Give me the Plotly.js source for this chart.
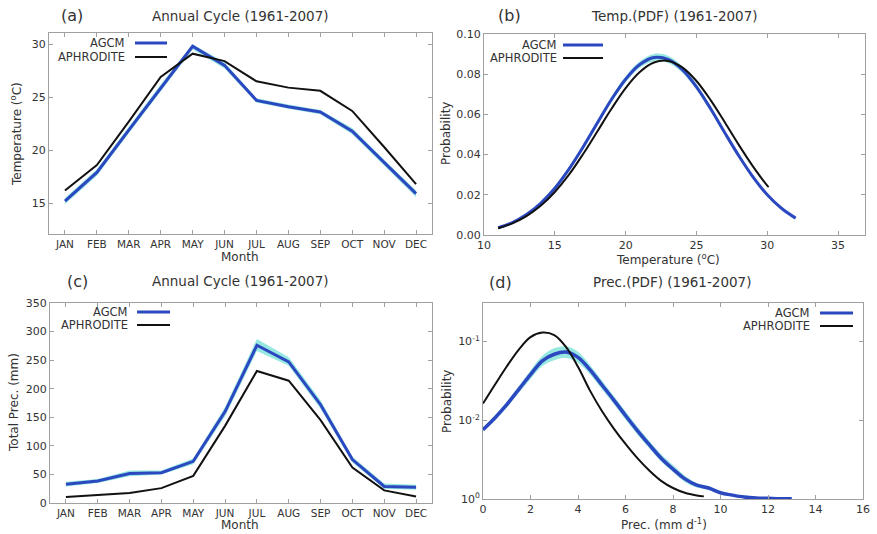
<!DOCTYPE html>
<html>
<head>
<meta charset="utf-8">
<script src="https://cdn.plot.ly/plotly-3.0.1.min.js"></script>
<style>html,body{margin:0;padding:0;background:#fff;}#chart{width:877px;height:534px;}</style>
</head>
<body>
<div id="chart"></div>
<script>
// ---------- data ----------
const months = ['JAN','FEB','MAR','APR','MAY','JUN','JUL','AUG','SEP','OCT','NOV','DEC'];

// (a) temperature annual cycle (°C)
const aAgcm  = [15.2, 17.9, 21.9, 25.9, 29.8, 28.0, 24.7, 24.1, 23.6, 21.8, 18.8, 15.9];
const aAgcmHigh = [15.5, 18.2, 22.2, 26.2, 30.0, 28.3, 24.9, 24.3, 23.8, 22.1, 19.1, 16.2];
const aAgcmLow  = [14.9, 17.6, 21.6, 25.6, 29.5, 27.7, 24.5, 23.9, 23.4, 21.5, 18.5, 15.6];
const aAphro = [16.2, 18.6, 22.7, 26.9, 29.1, 28.4, 26.5, 25.9, 25.6, 23.7, 20.3, 16.8];

// (b) temperature PDF
const bTempAgcm = [11,12,13,14,15,16,17,18,19,20,21,22,23,24,25,26,27,28,29,30,31,32];
const bAgcm     = [0.0036,0.0062,0.0102,0.0158,0.0233,0.0328,0.0438,0.0557,0.0674,0.0775,0.0848,0.0883,0.0874,0.0823,0.0737,0.0628,0.0509,0.0393,0.0288,0.0200,0.0133,0.0084];
const bAgcmHigh = [0.0040,0.0067,0.0108,0.0166,0.0242,0.0338,0.0450,0.0570,0.0688,0.0790,0.0864,0.0901,0.0892,0.0839,0.0751,0.0640,0.0519,0.0402,0.0296,0.0207,0.0139,0.0089];
const bAgcmLow  = [0.0032,0.0057,0.0096,0.0150,0.0224,0.0318,0.0426,0.0544,0.0660,0.0760,0.0832,0.0865,0.0856,0.0807,0.0723,0.0616,0.0499,0.0384,0.0280,0.0193,0.0127,0.0079];
const bTempAphro = [11,12,13,14,15,16,17,18,19,20,21,22,23,24,25,26,27,28,29,30,30.1];
const bAphro     = [0.0034,0.0058,0.0094,0.0145,0.0214,0.0300,0.0403,0.0515,0.0628,0.0731,0.0811,0.0858,0.0866,0.0834,0.0766,0.0671,0.0561,0.0447,0.0340,0.0246,0.0239];

// (c) precipitation annual cycle (mm)
const cAgcm  = [33, 38.5, 51.5, 53, 73, 160, 276, 247, 172, 76, 29, 27.5];
const cAgcmHigh = [37, 42, 57, 57, 78, 168, 287, 255, 180, 81, 34, 32];
const cAgcmLow  = [29, 35, 47, 50, 68, 152, 266, 240, 165, 71, 25, 23];
const cAphro = [10.5, 13.5, 17.5, 26, 47.5, 135, 231, 214, 145, 62, 22, 11.5];

// (d) precipitation PDF
const dPrecAgcm = [0,0.5,1,1.5,2,2.5,3,3.5,4,4.5,5,5.5,6,6.5,7,7.5,8,8.5,9,9.5,10,10.5,11,11.5,12,12.5,13];
const dAgcm     = [0.0076,0.0107,0.0158,0.0245,0.038,0.057,0.069,0.0735,0.063,0.044,0.0283,0.0182,0.0115,0.0074,0.0049,0.0033,0.0024,0.0018,0.0015,0.00138,0.0012,0.00112,0.00106,0.00103,0.00102,0.00101,0.00101];
const dAgcmHigh = [0.0080,0.0115,0.0172,0.0270,0.0430,0.0660,0.0820,0.0870,0.0740,0.0505,0.0322,0.0205,0.0130,0.0083,0.0055,0.0037,0.0027,0.00197,0.0016,0.00146,0.00125,0.00115,0.00108,0.00104,0.00103,0.00102,0.00102];
const dAgcmLow  = [0.0072,0.0100,0.0145,0.0222,0.0335,0.0490,0.0580,0.0620,0.0540,0.0385,0.0250,0.0162,0.0102,0.0066,0.0044,0.0030,0.0022,0.00165,0.0014,0.0013,0.00115,0.00109,0.00104,0.00102,0.00101,0.00101,0.001];
const dPrecAphro = [0,0.5,1,1.5,2,2.5,3,3.5,4,4.5,5,5.5,6,6.5,7,7.5,8,8.5,9,9.3];
const dAphro     = [0.0163,0.0283,0.0483,0.0785,0.1137,0.130,0.121,0.0851,0.0479,0.024,0.0132,0.0079,0.0050,0.0033,0.0023,0.0017,0.00138,0.0012,0.00111,0.00108];

const yTickValsD = [0.001, 0.01, 0.1];
const yTickTextD = ['10<sup>0</sup>', '10<sup>-2</sup>', '10<sup>-1</sup>'];

// ---------- styling ----------
const W = 877, H = 534;
const PX = x => x / W;
const PY = y => 1 - y / H;
const FONT = 'DejaVu Sans, Verdana, sans-serif';
const TXT = '#333';
const BLUE = '#2c48c0';
const BAND = 'rgba(64,214,200,0.55)';
const BLACK = '#111';

function band(x, lo, hi, xa, ya, shape) {
  return [
    {x: x, y: lo, xaxis: xa, yaxis: ya, mode: 'lines', line: {width: 0, shape: shape}, hoverinfo: 'skip', showlegend: false},
    {x: x, y: hi, xaxis: xa, yaxis: ya, mode: 'lines', line: {width: 0, shape: shape}, fill: 'tonexty', fillcolor: BAND, hoverinfo: 'skip', showlegend: false}
  ];
}
function ln(x, y, xa, ya, color, w, shape, name) {
  return {x: x, y: y, xaxis: xa, yaxis: ya, mode: 'lines', name: name, line: {color: color, width: w, shape: shape}, showlegend: false};
}

const traces = [].concat(
  band(months, aAgcmLow, aAgcmHigh, 'x', 'y', 'linear'),
  [ln(months, aAgcm, 'x', 'y', BLUE, 3, 'linear', 'AGCM'), ln(months, aAphro, 'x', 'y', BLACK, 2, 'linear', 'APHRODITE')],
  band(bTempAgcm, bAgcmLow, bAgcmHigh, 'x2', 'y2', 'spline'),
  [ln(bTempAgcm, bAgcm, 'x2', 'y2', BLUE, 3, 'spline', 'AGCM'), ln(bTempAphro, bAphro, 'x2', 'y2', BLACK, 2, 'spline', 'APHRODITE')],
  band(months, cAgcmLow, cAgcmHigh, 'x3', 'y3', 'linear'),
  [ln(months, cAgcm, 'x3', 'y3', BLUE, 3, 'linear', 'AGCM'), ln(months, cAphro, 'x3', 'y3', BLACK, 2, 'linear', 'APHRODITE')],
  band(dPrecAgcm, dAgcmLow, dAgcmHigh, 'x4', 'y4', 'spline'),
  [ln(dPrecAgcm, dAgcm, 'x4', 'y4', BLUE, 3.5, 'spline', 'AGCM'), ln(dPrecAphro, dAphro, 'x4', 'y4', BLACK, 2, 'spline', 'APHRODITE')]
);

function ax(extra) {
  return Object.assign({
    showline: true, linecolor: '#a0a0a0', linewidth: 1, mirror: 'ticks',
    ticks: 'inside', ticklen: 4, tickcolor: '#a0a0a0', showgrid: false, zeroline: false,
    tickfont: {family: FONT, size: 11, color: TXT}, fixedrange: true
  }, extra);
}

const layout = {
  width: W, height: H,
  margin: {l: 0, r: 0, t: 0, b: 0, pad: 0},
  paper_bgcolor: '#fff', plot_bgcolor: '#fff',
  showlegend: false,
  font: {family: FONT, color: TXT},
  xaxis:  ax({domain: [PX(49), PX(432)], anchor: 'y', type: 'category', range: [-0.5, 11.5], tickfont: {family: FONT, size: 10.5, color: TXT}}),
  yaxis:  ax({domain: [PY(234), PY(33)], anchor: 'x', range: [12.1, 31.05], tickvals: [15, 20, 25, 30]}),
  xaxis2: ax({domain: [PX(484), PX(865)], anchor: 'y2', range: [10, 36.9], tickvals: [10, 15, 20, 25, 30, 35]}),
  yaxis2: ax({domain: [PY(235), PY(34)], anchor: 'x2', range: [0, 0.1], tickvals: [0, 0.02, 0.04, 0.06, 0.08, 0.1], tickformat: '.2f'}),
  xaxis3: ax({domain: [PX(50), PX(432)], anchor: 'y3', type: 'category', range: [-0.5, 11.5], tickfont: {family: FONT, size: 10.5, color: TXT}}),
  yaxis3: ax({domain: [PY(503), PY(303)], anchor: 'x3', range: [0, 350], tickvals: [0, 50, 100, 150, 200, 250, 300, 350]}),
  xaxis4: ax({domain: [PX(483), PX(863)], anchor: 'y4', range: [0, 16], tickvals: [0, 2, 4, 6, 8, 10, 12, 14, 16]}),
  yaxis4: ax({domain: [PY(499), PY(303)], anchor: 'x4', type: 'log', range: [-3.0, -0.51], tickvals: yTickValsD, ticktext: yTickTextD}),
  annotations: [],
  shapes: []
};

function note(text, x, y, size, opts) {
  layout.annotations.push(Object.assign({
    text: text, xref: 'paper', yref: 'paper', x: PX(x), y: PY(y),
    xanchor: 'center', yanchor: 'middle', showarrow: false,
    font: {family: FONT, size: size, color: TXT}
  }, opts || {}));
}

// panel labels and titles
note('(a)', 72, 16, 16); note('Annual Cycle (1961-2007)', 240, 16, 13.5);
note('(b)', 509, 16, 16); note('Temp.(PDF) (1961-2007)', 674, 16, 13.5);
note('(c)', 77, 281, 16); note('Annual Cycle (1961-2007)', 240, 281, 13.5);
note('(d)', 500, 282, 16); note('Prec.(PDF) (1961-2007)', 672, 282, 13.5);

// axis titles
note('Temperature (<sup>o</sup>C)', 16, 134, 12, {textangle: -90});
note('Month', 240, 257, 12);
note('Probability', 446, 134, 12, {textangle: -90});
note('Temperature (<sup>o</sup>C)', 668, 259, 12);
note('Total Prec. (mm)', 14, 403, 12, {textangle: -90});
note('Month', 240, 525, 12);
note('Probability', 447, 401, 12, {textangle: -90});
note('Prec. (mm d<sup>-1</sup>)', 664, 524, 12);

// legends: text right-aligned with line key on the right
function legend(xr, y1, y2, k1, k2) {
  note('AGCM', xr, y1, 11.5, {xanchor: 'right'});
  note('APHRODITE', xr, y2, 11.5, {xanchor: 'right'});
  layout.shapes.push({type: 'line', xref: 'paper', yref: 'paper', x0: PX(k1), x1: PX(k2), y0: PY(y1), y1: PY(y1), line: {color: BLUE, width: 3}});
  layout.shapes.push({type: 'line', xref: 'paper', yref: 'paper', x0: PX(k1), x1: PX(k2), y0: PY(y2), y1: PY(y2), line: {color: BLACK, width: 2}});
}
legend(127, 43, 57, 135, 167);
legend(559, 45, 58, 563, 603);
legend(130, 312, 325, 137, 170);
legend(812, 313, 326, 820, 853);

Plotly.newPlot('chart', traces, layout, {staticPlot: true, displayModeBar: false});
</script>
</body>
</html>
